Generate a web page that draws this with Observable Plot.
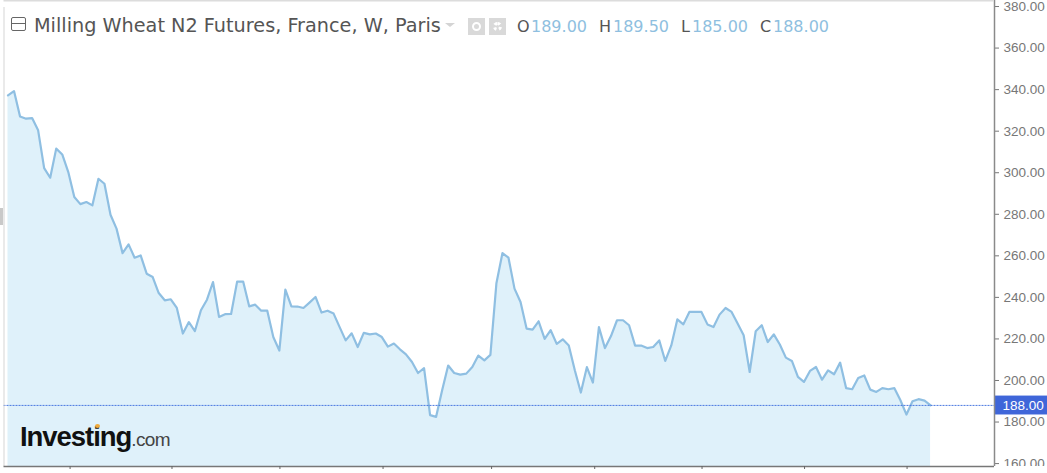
<!DOCTYPE html>
<html><head><meta charset="utf-8">
<script src="https://cdn.jsdelivr.net/npm/d3@7"></script>
<script src="https://cdn.jsdelivr.net/npm/@observablehq/plot@0.6"></script>
<style>
html,body{margin:0;padding:0;background:#fff;overflow:hidden}
#w{position:relative;width:1047px;height:473px;overflow:hidden}
#w svg{display:block}
.t{position:absolute;white-space:nowrap;font-family:"DejaVu Sans",sans-serif}
.b{position:absolute;box-sizing:border-box}
</style></head><body>
<div id="w">
<div class="b" style="left:11px;top:17px;width:15px;height:14px;border:1px solid #666;border-radius:2px"></div>
<div class="b" style="left:12px;top:23px;width:13px;height:1px;background:#666"></div>
<div class="t" id="title" style="left:34px;top:14px;font-size:19.25px;color:#555"></div>
<div class="b" style="left:445px;top:23px;width:0;height:0;border-left:5px solid transparent;border-right:5px solid transparent;border-top:4px solid #d4d4d4"></div>
<div class="b" style="left:468px;top:18px;width:17px;height:17px;background:#d9d9d9"></div>
<div class="b" style="left:472px;top:22px;width:9px;height:9px;border:2px solid #fff;border-radius:50%"></div>
<div class="b" style="left:489px;top:18px;width:17px;height:17px;background:#d9d9d9"></div>
<div class="b" style="left:493px;top:22px;width:9px;height:9px;border:3px dotted #fff;border-radius:50%"></div>
<div id="ohlc"></div>
<div class="t" style="left:20px;top:421px;font-family:'Liberation Sans',sans-serif;font-weight:700;font-size:27.5px;letter-spacing:-1.05px;color:#111">Investing<span style="font-weight:400;font-size:19px;letter-spacing:-0.6px;color:#444">.com</span></div>
<div class="b" style="left:95px;top:424px;width:5px;height:4px;background:#efa93a;border-radius:50%"></div>
<div class="b" style="left:0;top:208px;width:3px;height:17px;background:#c9c9c9"></div>
</div>
<script>
const titleText = "Milling Wheat N2 Futures, France, W, Paris";
const ohlcLabels = ["O","H","L","C"];
const ohlcValues = ["189.00","189.50","185.00","188.00"];
const ohlcLabelLeft = [517,599,681,760];
const ohlcValueLeft = [531,613,692,773];
const lastPrice = 188;
const yTickValues = [160,180,200,220,240,260,280,300,320,340,360,380];
const xTickIndex = [10.3,27.2,45.1,62.2,80.2,97.3,115.1,132.1,149.1];
const prices = [
337.2,339.3,327.1,326,326.3,320.4,302.2,297.6,311.6,308.8,300.3,288.3,284.9,285.9,284.3,297.1,294.7,279.8,273.1,261.3,
265.5,259.1,260.2,251.4,249.8,242.1,238.6,239.1,234.9,222.6,228.1,223.8,233.8,238.9,247.4,230.6,231.9,232,247.6,247.6,
235.7,236.5,233.6,233.6,220.9,214.4,243.7,235.7,235.6,234.9,237.5,240.2,232.7,233.6,232.2,225.7,219.3,222.7,216.1,222.9,
222.2,222.6,220.9,216.3,217.8,215,212.6,208.9,203.6,205.9,183.3,182.5,195.3,207.2,203.6,202.8,203.3,206.5,212,209.7,
212.3,246.8,261.3,259.1,244.2,237.8,225,224.5,228.5,220,224.2,217.6,219.8,216.8,204.9,194.2,206.4,199,225.7,215.6,
221.4,229,229,226.6,216.8,216.8,215.6,216.1,219.3,209.4,216.9,229.4,227,233,233,233,227,225.7,231.7,234.9,
233,227.4,221.8,204.1,223.7,226.6,218.5,222.2,217.3,211,209.4,201.7,199.3,204.6,206.5,200.4,204.9,203,208.6,196.3,
195.8,201.2,202.4,195.6,194.5,196.3,195.8,196.3,190.5,183.6,190,191,190.3,188];

const yFloor = 158.6, yTop = 382.9, xLeft = -0.66, xAxisAt = 163.6;
const w = document.getElementById("w");
document.getElementById("title").textContent = titleText;
const oh = document.getElementById("ohlc");
ohlcLabels.forEach((l,i)=>{
  const a=document.createElement("div");a.className="t";a.textContent=l;
  a.style.cssText=`left:${ohlcLabelLeft[i]}px;top:17px;font-size:16px;color:#555`;
  const b=document.createElement("div");b.className="t";b.textContent=ohlcValues[i];
  b.style.cssText=`left:${ohlcValueLeft[i]}px;top:17px;font-size:16px;color:#8fbfe0`;
  oh.append(a,b);
});
const series = prices.map((p,i)=>({i,p}));
const chart = Plot.plot({
  width:1047,height:473,marginTop:0,marginBottom:7,marginLeft:3,marginRight:53,
  style:{background:"transparent",overflow:"visible"},
  x:{domain:[xLeft,xAxisAt],range:[3.5,994],axis:null},
  y:{domain:[yFloor,yTop],range:[466,0],axis:null},
  marks:[
    Plot.areaY(series,{x:"i",y1:yFloor,y2:"p",fill:"#dff1fa",curve:"linear"}),
    Plot.line(series,{x:"i",y:"p",stroke:"#8fbfe2",strokeWidth:2.2,curve:"linear"}),
    Plot.ruleY([lastPrice],{x1:xLeft,x2:xAxisAt,stroke:"#4a78e0",strokeWidth:1,strokeDasharray:"2 1"}),
    Plot.axisY(yTickValues,{anchor:"right",tickSize:4,tickPadding:5,tickFormat:d=>d.toFixed(2),fontSize:13.5,color:"#777",stroke:"#777",fontFamily:"Liberation Sans",label:null}),
    Plot.rect([0],{x1:xAxisAt,x2:xAxisAt,y1:yFloor,y2:yFloor,insetRight:-53,insetBottom:-7,fill:"#fff"}),
    Plot.rect([lastPrice],{x1:xAxisAt,x2:xAxisAt,y1:183.4,y2:192.5,insetRight:-53,fill:"#3f66d9"}),
    Plot.text([lastPrice],{x:xAxisAt,y:d=>d,text:d=>d.toFixed(2),textAnchor:"start",dx:8,fill:"#fff",fontSize:13.5,fontFamily:"Liberation Sans"}),
    Plot.ruleX([xAxisAt],{y1:yFloor,y2:yTop,stroke:"#8a8a8a",strokeWidth:1.5}),
    Plot.ruleX([xLeft],{y1:yFloor,y2:yTop,stroke:"#d5d5d5",strokeWidth:1,insetBottom:-7}),
    Plot.ruleY([yTop],{x1:xLeft,x2:xAxisAt,stroke:"#dcdcdc",strokeWidth:2}),
    Plot.ruleY([yFloor],{x1:xLeft,x2:xAxisAt,stroke:"#777",strokeWidth:1.5}),
    Plot.axisX(xTickIndex,{anchor:"bottom",tickSize:3,tickFormat:()=>"",stroke:"#666",label:null})
  ]
});
w.insertBefore(chart,w.firstChild);
chart.style.position="absolute";chart.style.left="0";chart.style.top="0";
</script>
</body></html>
